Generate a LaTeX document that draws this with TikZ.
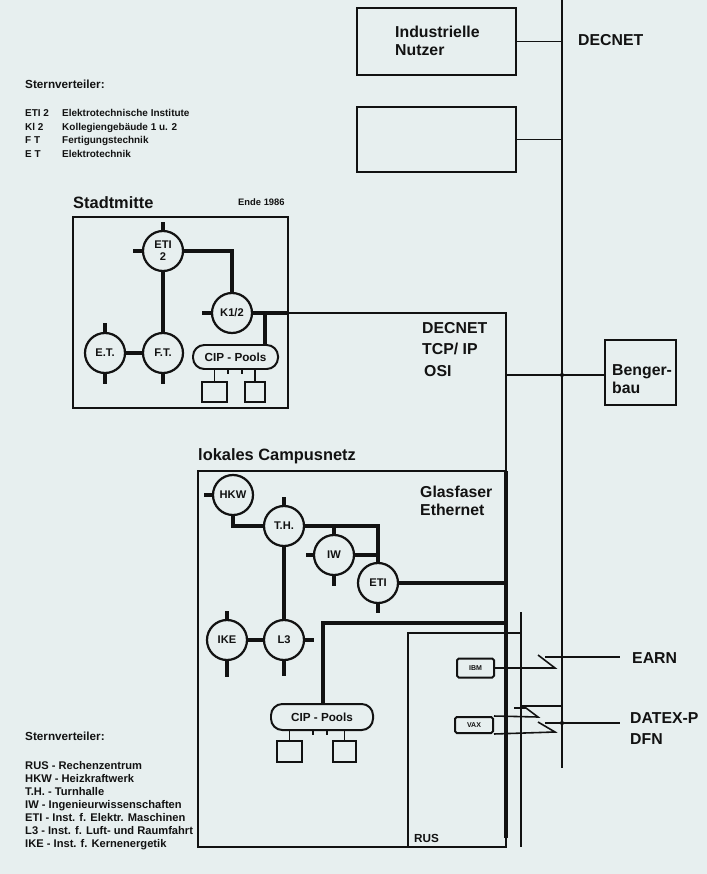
\documentclass[tikz,border=0pt]{standalone}
\usepackage{fontspec}
\setmainfont{Liberation Sans}
\usetikzlibrary{calc}
\definecolor{bg}{RGB}{231,239,239}
\definecolor{ink}{RGB}{18,18,18}
\begin{document}
\begin{tikzpicture}[x=0.03cm,y=-0.03cm,
  thinln/.style={line width=1.35pt, draw=ink},
  fatln/.style={line width=3.4pt, draw=ink},
  stubln/.style={line width=3.2pt, draw=ink},
  rusln/.style={line width=2.4pt, draw=ink},
  hub/.style={circle, draw=ink, line width=1.9pt, minimum size=1.2cm, inner sep=0pt, align=center, fill=bg, text=ink, font=\bfseries\fontsize{9.5}{10}\selectfont},
  pool/.style={rectangle, rounded corners=0.34cm, draw=ink, line width=1.7pt, inner sep=0pt, fill=bg, text=ink, font=\bfseries\fontsize{10}{10}\selectfont},
  term/.style={rectangle, draw=ink, line width=1.7pt, inner sep=0pt},
  host/.style={rectangle, rounded corners=1.5pt, draw=ink, line width=1.7pt, inner sep=0pt, text=ink, font=\bfseries\fontsize{6}{6}\selectfont},
  lbl/.style={inner sep=0pt, anchor=base west, text=ink, font=\bfseries\fontsize{13.5}{13.5}\selectfont},
  big/.style={inner sep=0pt, anchor=base west, text=ink, font=\bfseries\fontsize{14}{14}\selectfont},
  small/.style={inner sep=0pt, anchor=base west, text=ink, font=\bfseries\fontsize{8}{8}\selectfont},
  legend/.style={inner sep=0pt, anchor=base west, text=ink, font=\bfseries\fontsize{8.5}{8.5}\selectfont},
  legendb/.style={inner sep=0pt, anchor=base west, text=ink, font=\bfseries\fontsize{9.5}{9.5}\selectfont},
  leghead/.style={inner sep=0pt, anchor=base west, text=ink, font=\bfseries\fontsize{10}{10}\selectfont}
]
\fill[bg] (0,0) rectangle (707,874);
\useasboundingbox (0,0) rectangle (707,874);

% ---------- DECNET trunk and upper boxes ----------
\coordinate (dtop) at (562,0);
\coordinate (dbot) at (562,768);
\draw[thinln] (dtop) -- (dbot);

\node[term, minimum width=4.77cm, minimum height=2.01cm] (ind) at (436.5,41.5) {};
\node[lbl] (indt1) at (395,38) {Industrielle};
\node[lbl] (indt2) at (395,56) {Nutzer};
\node[term, minimum width=4.77cm, minimum height=1.95cm] (box2) at (436.5,139.5) {};
\draw[thinln] (ind.east) -- (ind.east -| dtop);
\draw[thinln] (box2.east) -- (box2.east -| dtop);
\node[lbl] (decnet1) at (578,46) {DECNET};

% ---------- top legend ----------
\node[leghead] (sv1) at (25,89) {Sternverteiler:};
\node[legend] (la1) at (25,117) {ETI 2};
\node[legend] (lb1) at (62,117) {Elektrotechnische Institute};
\node[legend] (la2) at (25,130.5) {Kl 2};
\node[legend] (lb2) at (62,130.5) {Kollegiengebäude 1 u. 2};
\node[legend] (la3) at (25,144) {F T};
\node[legend] (lb3) at (62,144) {Fertigungstechnik};
\node[legend] (la4) at (25,157.5) {E T};
\node[legend] (lb4) at (62,157.5) {Elektrotechnik};

% ---------- Stadtmitte ----------
\node[big] (stadt) at (73,208) {Stadtmitte};
\node[small] (ende) at (238,205) {Ende 1986};
\node[term, minimum width=6.45cm, minimum height=5.73cm] (stbox) at (180.5,312.5) {};

\node[hub] (eti2) at (163,251) {ETI\\2};
\node[hub] (k12) at (232,313) {K1/2};
\node[hub] (ft) at (163,353) {F.T.};
\node[hub] (et) at (105,353) {E.T.};
\node[pool, minimum width=2.55cm, minimum height=0.72cm] (cip1) at (235.5,357) {CIP - Pools};
\node[term, minimum width=0.75cm, minimum height=0.6cm] (sq1) at (214.5,392) {};
\node[term, minimum width=0.6cm, minimum height=0.6cm] (sq2) at (255,392) {};

\draw[fatln] (eti2.east) -| (k12.north);
\draw[fatln] (eti2.south) -- (ft.north);
\draw[fatln] (et.east) -- (ft.west);
\coordinate (sexit) at (288,313);
\draw[fatln] (k12.east) -- (sexit);
\coordinate (cipj) at (265,313);
\draw[fatln] (cipj) -- (cipj |- cip1.north);
\draw[thinln] (sq1.north) -- (sq1.north |- cip1.south);
\draw[thinln] (sq2.north) -- (sq2.north |- cip1.south);
\draw[thinln] (228,369) -- (228,374);
\draw[thinln] (242,369) -- (242,374);

\draw[stubln] (eti2.north) -- ++(0,-8);
\draw[stubln] (eti2.west) -- ++(-9,0);
\draw[stubln] (k12.west) -- ++(-9,0);
\draw[stubln] (et.north) -- ++(0,-9);
\draw[stubln] (et.south) -- ++(0,10);
\draw[stubln] (ft.south) -- ++(0,10);

% ---------- link to campus / Bengerbau ----------
\coordinate (bbtop) at (506,313);
\coordinate (bbcamp) at (506,471);
\coordinate (bbm) at (506,375);
\coordinate (bbbot) at (506,838);
\draw[thinln] (sexit) -- (bbtop) -- (bbcamp);
\node[lbl] (dn2) at (422,333) {DECNET};
\node[lbl] (dn3) at (422,354) {TCP/ IP};
\node[lbl] (dn4) at (424,376) {OSI};
\node[term, minimum width=2.13cm, minimum height=1.95cm] (beng) at (640.5,372.5) {};
\node[lbl] (bt1) at (612,375) {Benger-};
\node[lbl] (bt2) at (612,393) {bau};
\draw[thinln] (bbm) -- (bbm -| beng.west);
\fill[ink] (562,375) circle (1.8pt);

% ---------- Campus ----------
\node[big] (campt) at (198,460) {lokales Campusnetz};
\node[term, minimum width=9.24cm, minimum height=11.28cm] (campbox) at (352,659) {};
\node[lbl] (gf1) at (420,497) {Glasfaser};
\node[lbl] (gf2) at (420,515) {Ethernet};
\draw[fatln] (bbcamp) -- (bbbot);

\node[hub] (hkw) at (233,495) {HKW};
\node[hub] (th) at (284,526) {T.H.};
\node[hub] (iw) at (334,555) {IW};
\node[hub] (eti) at (378,583) {ETI};
\node[hub] (ike) at (227,640) {IKE};
\node[hub] (l3) at (284,640) {L3};
\node[pool, minimum width=3.06cm, minimum height=0.78cm] (cip2) at (322,717) {CIP - Pools};
\node[term, minimum width=0.75cm, minimum height=0.63cm] (sq3) at (289.5,751.5) {};
\node[term, minimum width=0.69cm, minimum height=0.63cm] (sq4) at (344.5,751.5) {};

\draw[fatln] (hkw.south) |- (th.west);
\draw[fatln] (th.east) -| (eti.north);
\draw[fatln] (iw.east) -- (iw.east -| eti.north);
\draw[fatln] (eti.east) -- (eti.east -| bbcamp);
\draw[fatln] (th.south) -- (l3.north);
\draw[fatln] (ike.east) -- (l3.west);
\coordinate (l3line) at (323,623);
\draw[fatln] (l3line -| bbcamp) -- (l3line) -- (l3line |- cip2.north);
\draw[thinln] (sq3.north) -- (sq3.north |- cip2.south);
\draw[thinln] (sq4.north) -- (sq4.north |- cip2.south);
\draw[thinln] (313,730) -- (313,735);
\draw[thinln] (327,730) -- (327,735);

\draw[stubln] (hkw.west) -- ++(-8,0);
\draw[stubln] (th.north) -- ++(0,-8);
\draw[stubln] (iw.west) -- ++(-7,0);
\draw[stubln] (iw.north) -- ++(0,-6);
\draw[stubln] (iw.south) -- ++(0,10);
\draw[stubln] (eti.south) -- ++(0,9);
\draw[stubln] (ike.north) -- ++(0,-8);
\draw[stubln] (ike.south) -- ++(0,16);
\draw[stubln] (l3.east) -- ++(9,0);
\draw[stubln] (l3.south) -- ++(0,15);

% ---------- RUS ----------
\draw[rusln] (408,847) -- (408,633) -- (506,633);
\draw[thinln] (506,633) -- (521,633);
\draw[thinln] (521,612) -- (521,847);
\draw[thinln] (521,706) -- (562,706);
\node[inner sep=0pt, anchor=base west, text=ink, font=\bfseries\fontsize{10}{10}\selectfont] (rus) at (414,842) {RUS};
\node[host, minimum width=1.11cm, minimum height=0.57cm] (ibm) at (475.5,668) {IBM};
\node[host, minimum width=1.14cm, minimum height=0.48cm] (vax) at (474,725) {VAX};

% EARN link
\coordinate (earnend) at (620,657);
\draw[thinln] (ibm.east) -- (555,668) -- (538,655);
\draw[thinln] (545,657) -- (earnend);
\node[lbl] (earn) at (632,663) {EARN};

% DATEX-P link
\coordinate (datexend) at (620,723);
\draw[thinln] (vax.north east) -- (538,717) -- (526,708) -- (514,708);
\draw[thinln] (vax.south east) -- (555,732) -- (538,722);
\draw[thinln] (545,723) -- (datexend);
\fill[ink] (562,723) circle (1.8pt);
\node[lbl] (datex) at (630,723) {DATEX-P};
\node[lbl] (dfn) at (630,744) {DFN};

% ---------- bottom legend ----------
\node[leghead] (sv2) at (25,740) {Sternverteiler:};
\node[legendb] (r1) at (25,769) {RUS - Rechenzentrum};
\node[legendb] (r2) at (25,782) {HKW - Heizkraftwerk};
\node[legendb] (r3) at (25,795) {T.H. - Turnhalle};
\node[legendb] (r4) at (25,808) {IW - Ingenieurwissenschaften};
\node[legendb] (r5) at (25,821) {ETI - Inst. f. Elektr. Maschinen};
\node[legendb] (r6) at (25,834) {L3 - Inst. f. Luft- und Raumfahrt};
\node[legendb] (r7) at (25,847) {IKE - Inst. f. Kernenergetik};
\end{tikzpicture}
\end{document}
